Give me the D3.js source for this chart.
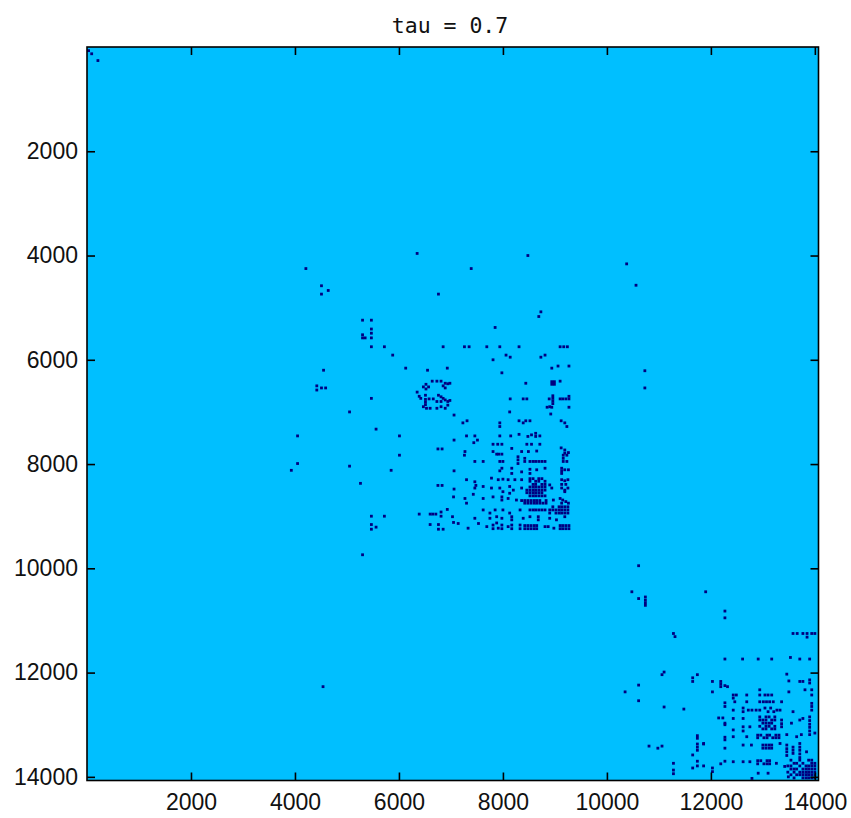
<!DOCTYPE html>
<html>
<head>
<meta charset="utf-8">
<script src="https://cdn.jsdelivr.net/npm/d3@7/dist/d3.min.js"></script>
<style>
  html, body { margin: 0; padding: 0; background: #fff; }
  svg { display: block; }
</style>
</head>
<body>
<script>
// Sparsity pattern of the thresholded matrix, tau = 0.7
// Each entry is [row, column] of a retained (nonzero) element.

const matrixSize = 14070;
const tickValues = [2000, 4000, 6000, 8000, 10000, 12000, 14000];
const titleText = "tau = 0.7";

const isolatedEntries = [
  [70,30],[130,90],[260,210],[3960,6350],[4000,8480],[4250,4210],[4250,7390],[4160,10380],
  [4570,10560],[4580,4510],[4670,4640],[4740,4510],[4740,6760],[5080,8730],[5170,8690],
  [5380,7850],[6210,10730],[6540,10730],[12270,4540],[9740,5300],[9950,10610]
];

const upperBand = [
  [5240,5300],[5240,5470],[5410,5470],[5490,5470],[5580,5470],[5520,5300],[5580,5300],[5580,5350],
  [5750,5470],[5750,5720],[5750,6850],[5750,7260],[5750,7350],[5750,7690],[5750,7940],[5750,8310],
  [5750,9100],[5750,9170],[5750,9240],[5910,5880],[5910,8060],[5950,8140],[6000,7810],[5950,8730],
  [5910,8810],[6160,6130],[6200,6550],[6160,6930],[6200,4550],[6160,8940],[6120,9060],[6120,9270],
  [6250,7980],[6500,4420],[6580,4420],[6540,4510],[6540,4590],[6740,5470],[6450,8440],[6420,8940],
  [6420,8990],[6470,8940],[6470,8990],[6410,9100],[6450,6980],[6780,6980],[6750,8140],[6750,8390],
  [6750,8460],[6690,8960],[6740,8960],[6790,8960],[6840,8960],[6750,8890],[6750,9100],[6750,9150],
  [6750,9210],[6750,9270],[6700,9270],[6910,8850],[6910,8940],[6910,9270]
];

const block6500 = [
  [6520,6470],[6470,6520],[6520,6570],[6560,6520],[6410,6640],[6410,6730],[6410,6810],[6450,6890],
  [6460,6940],[6500,6850],[6540,6890],[6620,6350],[6700,6390],[6740,6420],[6680,6510],[6760,6510],
  [6810,6510],[6860,6510],[6750,6580],[6750,6660],[6680,6760],[6710,6810],[6740,6850],[6770,6890],
  [6800,6730],[6800,6810],[6800,6940],[6900,6470],[6930,6530],[6930,6600],[6930,6730],[6900,6810],
  [6930,6890],[6870,6940]
];

const leftScatter = [
  [7000,5050],[7330,5560],[7460,4050],[7460,6010],[7830,6010],[7990,4050],[8120,3930],[8040,5050],
  [8120,5850],[8370,5260],[7710,6750],[7710,6830],[8410,6750],[8410,6830],[9000,5470],[9000,5720],
  [8960,6390],[8960,6600],[8960,6650],[8960,6710],[8920,6810],[9000,6810],[8870,6930],[9160,5470],
  [9250,5470],[9210,5560],[9160,6600],[9160,6760],[9250,6760],[9250,6850]
];

const block8500Top = [
  [6900,8900],[7060,7060],[7000,8130],[7040,8920],[7210,7230],[7170,7310],[7210,7940],[7280,7940],
  [7170,8310],[7210,8390],[7170,8440],[7170,8520],[7170,9120],[7210,9190],[7280,9230],[7460,7300],
  [7460,7460],[7460,7940],[7460,8150],[7430,8310],[7470,8480],[7440,8550],[7410,8630],[7470,8630],
  [7460,8710],[7540,7060],[7590,7440],[7540,7510],[7620,7810],[7620,7900],[7620,7980],[7620,8460],
  [7620,8550],[7620,8710],[7700,8170],[7690,9120],[7760,7270],[7760,7810],[7810,7880],[7810,7920],
  [7810,7980],[7760,8360],[7760,8490],[7750,8650],[7730,9190],[7790,9190],[7780,9260],[7830,9160],
  [7830,9230],[7830,7260],[7950,7460],[7950,7620],[7950,7940],[7950,8000],[7860,8290],[7920,8290],
  [7990,8290],[7890,8420],[7950,8420],[7950,8520],[7950,8580],[7950,8630],[7950,8690],[7950,8750],
  [7950,8810],[7890,9160],[7950,9160],[7950,9230],[8130,7060],[8130,7940],[8080,7980],[8080,8170],
  [8180,8170],[8150,8360],[8100,8520],[8180,8520],[8110,8650],[8080,8810],[8080,9130],[8130,9130],
  [8180,9130],[8110,9190],[8110,9260]
];

const block8500Mid = [
  [8300,7300],[8340,7460],[8410,7480],[8270,7780],[8300,7910],[8290,8000],[8300,8100],[8300,8230],
  [8300,8360],[8280,8520],[8280,8580],[8280,8690],[8280,8750],[8330,8520],[8330,8630],[8330,8690],
  [8330,8810],[8390,8580],[8390,8630],[8390,8750],[8390,8810],[8400,8900],[8300,9130],[8320,9190],
  [8300,9250],[8390,9130],[8390,9210],[8480,7060],[8460,7460],[8430,7620],[8460,7780],[8460,7940],
  [8530,8000],[8430,8130],[8500,8200],[8560,8130],[8460,8360],
  [8440,8520],[8440,8580],[8440,8630],[8440,8690],[8440,8750],[8440,8810],
  [8500,8460],[8500,8520],[8500,8580],[8500,8630],[8500,8690],[8500,8750],[8500,8810],
  [8550,8460],[8550,8520],[8550,8580],[8550,8630],[8550,8690],[8550,8750],
  [8610,8520],[8610,8580],[8610,8630],[8610,8690],[8610,8750],[8610,8810],
  [8460,8940],[8460,9130],[8500,9190],[8460,9250],[8530,9190],[8630,7050],[8580,7430]
];

const block8500Low = [
  [8660,7270],[8660,7620],[8630,7810],[8630,7980],[8690,7980],[8660,8100],[8690,8260],
  [8700,8360],[8700,8420],[8700,8480],[8700,8540],[8700,8600],[8700,8650],[8700,8710],[8700,8830],
  [8750,8420],[8750,8480],[8750,8540],[8750,8600],[8750,8650],[8750,8710],[8750,8770],[8750,8830],
  [8690,8970],[8660,9100],[8690,9150],[8720,9210],[8750,9260],[8750,9130],[8750,7300],
  [8880,7620],[8940,7750],[8880,7850],[8880,8000],[8940,8130],[8880,8330],[8880,8520],[8880,8580],
  [8880,8630],[8880,8690],[8880,8750],[8880,8810],
  [8820,8960],[8820,9080],[8820,9130],[8820,9190],[8820,9250],
  [8880,8900],[8880,8960],[8880,9020],[8880,9080],[8880,9130],[8880,9190],[8880,9250],
  [8940,8900],[8940,9020],[8940,9080],[8940,9130],[8940,9190],[8940,9250],
  [9010,7030],[9040,7460],[9040,7750],[9010,7880],[9040,7980],[9010,8170],[9070,8170],[9040,8390],
  [9010,8520],[9010,8680],[9070,8680],[9040,8900],[9070,9030],[9010,9190],[9140,7140],[9230,7330],
  [9140,7530],[9200,7690],[9170,7810],[9240,7810],[9230,7910],[9170,7980],[9240,7980],[9200,8100],
  [9170,8170],[9240,8170],[9170,8330],[9240,8330],
  [9180,8420],[9180,8480],[9180,8540],[9180,8600],[9180,8650],
  [9240,8420],[9240,8480],[9240,8540],[9240,8600],[9240,8650],
  [9200,8810],[9200,8870],[9230,8980],
  [9180,9100],[9180,9150],[9180,9210],[9180,9270],[9240,9100],[9240,9150],[9240,9210],[9240,9270],
  [9120,7050],[9130,7880]
];

const block13000Upper = [
  [10450,10480],[10580,10610],[10550,10740],[10610,10740],[10660,10740],[10710,10740],[10450,11900],
  [10820,12270],[10950,12270],[11250,11280],[11310,11310],[11740,12270],[12040,11060],[11990,11100],
  [12100,11650],[12170,11650],[12040,11740],[12240,10610],[12370,10350],[12540,10610],[12170,12030],
  [12370,12030],[12170,12190],[12220,12190],[12270,12190],[12250,12270],[12270,12320],[12660,11100],
  [12700,11480],[12580,12270],[12650,12270],
  [11250,13580],[11250,13660],[11250,13770],[11250,13850],[11250,13940],[11250,14000],[11320,13850],
  [11740,12610],[11740,12910],[11740,13170],[11710,13530],[11740,13710],[11740,13900],[12030,13460],
  [12160,13500],[12170,13710],[12170,13770],[12140,13900],[12200,13900],[12330,12940],[12370,13500],
  [12330,13810],[12330,13940],[12430,12430],[12430,12490],[12490,12430],[12430,12690],[12430,12940],
  [12430,13040],[12430,13100],[12430,13170],[12430,13940],[12560,12460],[12560,12690],[12560,12940],
  [12560,13010],[12560,13070],[12560,13130],[12560,13200],[12560,13360],[12720,12430],[12680,12620],
  [12750,12620],[12720,12720],[12720,12790],[12720,12870],[12720,12940],[12680,13040],[12750,13100],
  [12680,13150],[12750,13210],[12720,13270],[12720,13330],[12750,13580],[12590,13940],[12650,13940],
  [12720,13940]
];

const block13000Lower = [
  [12870,12150],[12870,12230],[13000,12270],[12880,12430],[12880,12620],
  [12850,12940],[12850,13060],[12850,13120],[12850,13230],
  [12910,12940],[12910,13000],[12910,13060],[12910,13170],[12910,13230],
  [12970,13000],[12970,13060],[12970,13120],[12970,13170],
  [13030,12940],[13030,13060],[13030,13120],[13030,13230],
  [13080,13000],[13080,13060],[13080,13170],[13080,13230],
  [12910,13360],[12980,13360],[13040,13360],[12970,13550],[12910,13710],[12880,13770],[12850,13900],
  [12920,13900],[12990,13900],[13050,13900],[13120,13900],[13190,13900],[13160,14000],[12970,12270],
  [13100,12430],[13040,12620],[13120,12620],[13040,12750],
  [13210,11740],[13260,11740],[13370,11740],[13430,11740],[13490,11740],[13370,11860],[13580,11650],
  [13700,11740],[13790,11740],[13740,11280],[13870,11280],[13940,11280],[13830,11650],[13790,11860],
  [13830,12030],[13900,12030],[13750,12190],[13700,12270],[13450,12270],[13240,12270],[13290,12270],
  [14030,12790],[13410,10810],[13450,10980],[13410,11060],[13230,12430],[13230,12690],
  [13200,12900],[13200,12960],[13200,13080],[13200,13130],[13200,13250],[13200,13310],
  [13250,12900],[13250,13020],[13250,13080],[13250,13190],[13250,13250],[13250,13310],
  [13190,13460],[13230,13650],[13190,13740],[13360,11860],[13390,12620],[13390,12780],
  [13390,13000],[13390,13060],[13390,13120],[13390,13170],
  [13450,13000],[13450,13060],[13450,13120],[13450,13170],
  [13360,13330],[13390,13460],[13460,13460],[13520,13460],[13590,13460],[13430,13580],[13490,13580],
  [13550,13580],[13360,13710],[13430,13710],[13490,13710],[13560,13710],[13630,13710],[13520,13840],
  [13710,12430],[13710,12620],[13710,12750],
  [13690,12900],[13690,12960],[13690,13080],[13690,13130],
  [13750,12900],[13750,13020],[13750,13080],[13750,13130],
  [13740,13260],[13800,13420],[13930,12910],[13930,13100],[14000,13490]
];

const cornerBlock = [
  [13680,13540],[13680,13710],[13680,13880],[13680,13940],
  [13740,13600],[13740,13650],[13740,13770],[13740,13940],[13740,14000],
  [13790,13480],[13790,13540],[13790,13710],[13790,13830],[13790,13880],[13790,13940],[13790,14000],
  [13850,13540],[13850,13600],[13850,13650],[13850,13770],[13850,13830],[13850,13880],[13850,13940],[13850,14000],
  [13910,13480],[13910,13600],[13910,13710],[13910,13770],[13910,13830],[13910,13880],[13910,13940],[13910,14000],
  [13960,13540],[13960,13650],[13960,13710],[13960,13770],[13960,13830],[13960,13880],[13960,13940],[13960,14000],
  [14020,13600],[14020,13770],[14020,13830],[14020,13880],[14020,13940],[14020,14000]
];

const entries = [].concat(
  isolatedEntries, upperBand, block6500, leftScatter,
  block8500Top, block8500Mid, block8500Low,
  block13000Upper, block13000Lower, cornerBlock
);

// Layout
const W = 851, H = 818;
const plot = { left: 87, top: 47, right: 818.5, bottom: 780.5 };
const bgColor = "#00BFFF";
const dotColor = "#000080";
const dotSize = 2.8;
const tickLen = 8;

const svg = d3.select("body").append("svg")
  .attr("width", W).attr("height", H);

const x = d3.scaleLinear().domain([0, matrixSize]).range([plot.left, plot.right]);
const y = d3.scaleLinear().domain([0, matrixSize]).range([plot.top, plot.bottom]);

// background of the matrix image
svg.append("rect")
  .attr("x", plot.left).attr("y", plot.top)
  .attr("width", plot.right - plot.left).attr("height", plot.bottom - plot.top)
  .attr("fill", bgColor);

// nonzero entries
svg.append("g").selectAll("rect")
  .data(entries)
  .join("rect")
  .attr("x", d => x(d[1]) - dotSize / 2)
  .attr("y", d => y(d[0]) - dotSize / 2)
  .attr("width", dotSize)
  .attr("height", dotSize)
  .attr("fill", dotColor);

const labelFont = "'Liberation Sans', Arial, Helvetica, sans-serif";

// axes with inward ticks on all four sides
const axB = svg.append("g")
  .attr("transform", `translate(0,${plot.bottom})`)
  .call(d3.axisBottom(x).tickValues(tickValues).tickSizeInner(-tickLen).tickSizeOuter(0).tickPadding(13).tickFormat(d3.format("d")));
const axT = svg.append("g")
  .attr("transform", `translate(0,${plot.top})`)
  .call(d3.axisTop(x).tickValues(tickValues).tickSizeInner(-tickLen).tickSizeOuter(0).tickFormat(""));
const axL = svg.append("g")
  .attr("transform", `translate(${plot.left},0)`)
  .call(d3.axisLeft(y).tickValues(tickValues).tickSizeInner(-tickLen).tickSizeOuter(0).tickPadding(9).tickFormat(d3.format("d")));
const axR = svg.append("g")
  .attr("transform", `translate(${plot.right},0)`)
  .call(d3.axisRight(y).tickValues(tickValues).tickSizeInner(-tickLen).tickSizeOuter(0).tickFormat(""));

[axB, axT, axL, axR].forEach(g => {
  g.select(".domain").remove();
  g.selectAll(".tick line").attr("stroke", "#000").attr("stroke-width", 1.6);
  g.selectAll(".tick text")
    .attr("fill", "#111")
    .style("font-family", labelFont)
    .style("font-size", "23px");
});

// frame
svg.append("rect")
  .attr("x", plot.left).attr("y", plot.top)
  .attr("width", plot.right - plot.left).attr("height", plot.bottom - plot.top)
  .attr("fill", "none")
  .attr("stroke", "#000")
  .attr("stroke-width", 1.6);

// title
svg.append("text")
  .attr("x", 450).attr("y", 33)
  .attr("text-anchor", "middle")
  .style("font-family", "'DejaVu Sans Mono', 'Liberation Mono', monospace")
  .style("font-size", "21.5px")
  .attr("fill", "#111")
  .text(titleText);
</script>
</body>
</html>
